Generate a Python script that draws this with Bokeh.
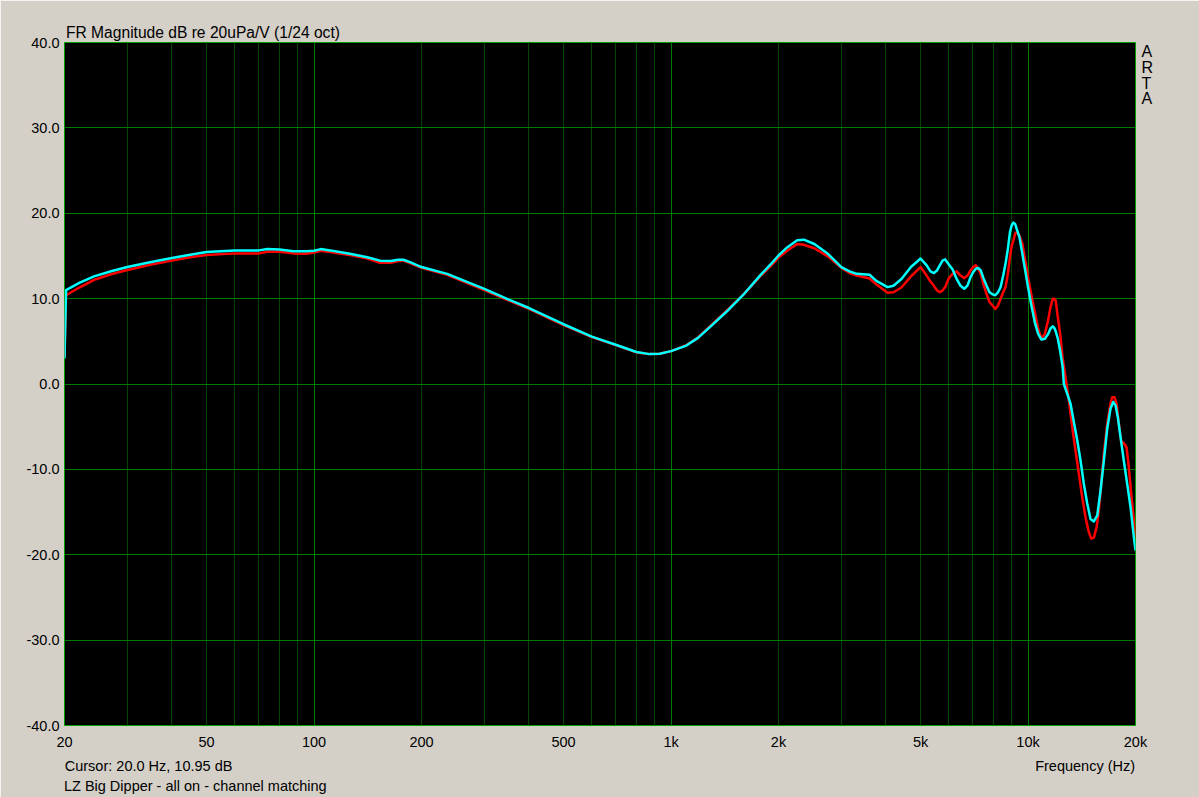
from bokeh.plotting import figure
from bokeh.models import Range1d, FixedTicker, Grid, NumeralTickFormatter, LogAxis, LinearAxis
from bokeh.embed import file_html
from bokeh.resources import INLINE

# ---------------- data ----------------
# common frequency points (Hz) up to 12.5 kHz
freq_hz = [20, 20.2, 22, 24.2, 27, 30, 35, 40, 45, 50, 60, 70, 74, 80, 87.5, 95, 100, 104.5, 111,
           126, 141, 153, 164, 172, 178, 185, 200, 236, 300, 346, 400, 500, 600, 700, 800, 870,
           930, 1000, 1104, 1190, 1280, 1425, 1590, 1775, 1900, 2000, 2114, 2256, 2356, 2520,
           2750, 3000, 3163, 3312, 3600, 3750, 4040, 4200, 4420, 4700, 5000, 5200, 5330, 5450,
           5560, 5660, 5760, 5860, 6000, 6150, 6310, 6470, 6630, 6770, 6900, 7020, 7140, 7250,
           7370, 7500, 7650, 7800, 7950, 8100, 8240, 8380, 8520, 8650, 8780, 8900, 9000, 9100,
           9200, 9290, 9460, 9640, 9820, 10000, 10220, 10450, 10670, 10900, 11150, 11400,
           11560, 11730, 11840, 11950, 12120, 12300, 12500]

cyan_db = [3.0, 11.0, 11.85, 12.6, 13.2, 13.7, 14.3, 14.75, 15.15, 15.45, 15.65, 15.65, 15.8,
           15.75, 15.55, 15.55, 15.6, 15.8, 15.65, 15.25, 14.85, 14.45, 14.4, 14.55, 14.55, 14.3,
           13.7, 12.9, 11.15, 10.0, 8.9, 7.0, 5.55, 4.6, 3.75, 3.5, 3.55, 3.85, 4.5, 5.4, 6.6,
           8.4, 10.4, 12.7, 14.0, 15.05, 16.0, 16.85, 16.9, 16.4, 15.25, 13.7, 13.2, 12.9, 12.8,
           12.1, 11.35, 11.5, 12.3, 13.7, 14.7, 13.9, 13.2, 13.0, 13.3, 13.9, 14.45, 14.6, 14.0,
           13.4, 12.3, 11.5, 11.15, 11.55, 12.5, 13.1, 13.5, 13.6, 13.3, 12.4, 11.55, 10.75,
           10.5, 10.4, 10.75, 11.35, 12.7, 14.1, 15.8, 17.8, 18.6, 18.9, 18.75, 18.2, 17.2,
           15.25, 13.3, 11.35, 9.2, 7.2, 5.9, 5.2, 5.3, 5.9, 6.5, 6.75, 6.6, 6.2, 5.3, 3.9, 2.0]

red_db = [3.2, 10.4, 11.3, 12.2, 12.85, 13.35, 14.0, 14.45, 14.85, 15.1, 15.3, 15.3, 15.5,
          15.5, 15.3, 15.25, 15.4, 15.6, 15.45, 15.1, 14.7, 14.2, 14.2, 14.4, 14.45, 14.2,
          13.6, 12.8, 11.0, 9.9, 8.8, 6.9, 5.5, 4.55, 3.7, 3.5, 3.55, 3.85, 4.55, 5.45, 6.7,
          8.5, 10.4, 12.6, 13.8, 14.8, 15.6, 16.4, 16.3, 15.9, 14.95, 13.6, 13.0, 12.7, 12.35,
          11.7, 10.7, 10.75, 11.3, 12.6, 13.7, 12.7, 12.0, 11.5, 10.95, 10.75, 10.95, 11.35,
          12.4, 12.9, 13.2, 12.7, 12.4, 12.7, 13.3, 13.7, 13.9, 13.5, 12.9, 11.7, 10.55, 9.6,
          9.2, 8.8, 9.2, 10.0, 10.75, 11.35, 12.9, 14.85, 16.2, 16.8, 17.6, 17.8, 17.4, 16.4,
          14.5, 12.5, 10.4, 8.4, 6.5, 5.3, 5.9, 7.6, 9.0, 10.0, 10.0, 9.8, 7.8, 5.9, 3.0]

# high-frequency tails, read separately for each trace
cyan_tail_hz = [12600, 12878, 13154, 13438, 13736, 14030, 14332, 14650, 14964, 15288, 15626,
                15960, 16304, 16666, 17022, 17320, 17580, 17846, 18156, 18550, 18956, 19366,
                19786, 20000]
cyan_tail_db = [0.0, -1.15, -2.3, -4.45, -6.6, -8.95, -11.7, -14.0, -15.8, -16.1, -15.4,
                -12.5, -9.0, -5.25, -2.9, -2.1, -2.5, -3.9, -6.2, -9.0, -11.7, -14.4, -17.9,
                -19.5]
red_tail_hz = [12736, 13012, 13298, 13582, 13876, 14182, 14486, 14800, 15030, 15288, 15558,
               15790, 16034, 16304, 16666, 17022, 17208, 17468, 17696, 17962, 18238, 18550,
               18872, 19158, 19450, 19704, 20000]
red_tail_db = [0.8, -1.9, -5.05, -7.8, -10.5, -13.25, -15.6, -17.35, -18.1, -18.0, -16.8,
               -14.8, -11.7, -8.2, -4.65, -2.3, -1.55, -1.55, -2.3, -4.65, -6.7, -6.95, -7.4,
               -9.75, -12.85, -15.2, -18.0]

x_tick_values = [20, 50, 100, 200, 500, 1000, 2000, 5000, 10000, 20000]
x_tick_labels = ["20", "50", "100", "200", "500", "1k", "2k", "5k", "10k", "20k"]
x_minor_lines = [30, 40, 50, 60, 70, 80, 90, 200, 300, 400, 500, 600, 700, 800, 900,
                 2000, 3000, 4000, 5000, 6000, 7000, 8000, 9000]
x_decade_lines = [100, 1000, 10000]
y_tick_values = [-40, -30, -20, -10, 0, 10, 20, 30, 40]
y_grid_values = [-30, -20, -10, 0, 10, 20, 30]

title_text = "FR Magnitude dB re 20uPa/V (1/24 oct)"
cursor_text = "Cursor: 20.0 Hz, 10.95 dB"
caption_text = "LZ Big Dipper - all on - channel matching"
xlabel_text = "Frequency (Hz)"
brand_letters = ["A", "R", "T", "A"]

# anchor positions of the text rows (data units along the axes)
cursor_anchor_hz = 34.4
xlabel_anchor_hz = 14450
caption_anchor_hz = 46.5
brand_anchor_db = [38.97, 37.11, 35.2, 33.4]

# ---------------- styling ----------------
BG = "#D4D0C8"
FONT = "Liberation Sans"

p = figure(width=1199, height=797, x_axis_type="log",
           x_range=Range1d(20, 20000), y_range=Range1d(-40, 40),
           output_backend="svg", toolbar_location=None,
           min_border_left=64, min_border_right=64, min_border_top=42, min_border_bottom=72)
p.border_fill_color = BG
p.background_fill_color = "black"
p.outline_line_color = "#00A000"
p.outline_line_width = 1

# title
p.title.text = title_text
p.title.align = "left"
p.title.offset = 1.5
p.title.standoff = 3
p.title.text_font = FONT
p.title.text_font_size = "15.6px"
p.title.text_font_style = "normal"
p.title.text_color = "black"


def plain_axis(ax, standoff, size="14.5px"):
    ax.axis_line_color = None
    ax.major_tick_line_color = None
    ax.minor_tick_line_color = None
    ax.major_tick_out = 0
    ax.major_tick_in = 0
    ax.major_label_standoff = standoff
    ax.major_label_text_font = FONT
    ax.major_label_text_font_size = size
    ax.major_label_text_color = "black"


# x axis
xa = p.xaxis[0]
xa.ticker = FixedTicker(ticks=x_tick_values, minor_ticks=[])
xa.major_label_overrides = {v: s for v, s in zip(x_tick_values, x_tick_labels)}
plain_axis(xa, 8)

# text rows below the axis
row1 = LogAxis(ticker=FixedTicker(ticks=[cursor_anchor_hz, xlabel_anchor_hz], minor_ticks=[]))
row1.major_label_overrides = {cursor_anchor_hz: cursor_text, xlabel_anchor_hz: xlabel_text}
plain_axis(row1, 5)
p.add_layout(row1, "below")

row2 = LogAxis(ticker=FixedTicker(ticks=[caption_anchor_hz], minor_ticks=[]))
row2.major_label_overrides = {caption_anchor_hz: caption_text}
plain_axis(row2, 1)
p.add_layout(row2, "below")

# y axis
ya = p.yaxis[0]
ya.ticker = FixedTicker(ticks=y_tick_values, minor_ticks=[])
ya.formatter = NumeralTickFormatter(format="0.0")
plain_axis(ya, 5)

# ARTA letters on the right
brand = LinearAxis(ticker=FixedTicker(ticks=brand_anchor_db, minor_ticks=[]))
brand.major_label_overrides = {v: s for v, s in zip(brand_anchor_db, brand_letters)}
plain_axis(brand, 6, size="16px")
p.add_layout(brand, "right")

# grids
p.xgrid.ticker = FixedTicker(ticks=x_minor_lines)
p.xgrid.grid_line_color = "#004400"
p.xgrid.grid_line_width = 1
p.ygrid.ticker = FixedTicker(ticks=y_grid_values)
p.ygrid.grid_line_color = "#007A00"
p.ygrid.grid_line_width = 1
decade_grid = Grid(dimension=0, ticker=FixedTicker(ticks=x_decade_lines),
                   grid_line_color="#007A00", grid_line_width=1)
p.add_layout(decade_grid)

# curves
p.line(freq_hz + red_tail_hz, red_db + red_tail_db,
       line_color="#FF0000", line_width=2.5, line_join="round")
p.line(freq_hz + cyan_tail_hz, cyan_db + cyan_tail_db,
       line_color="#00FFFF", line_width=2.5, line_join="round")

open("out.html", "w").write(file_html(p, INLINE))
